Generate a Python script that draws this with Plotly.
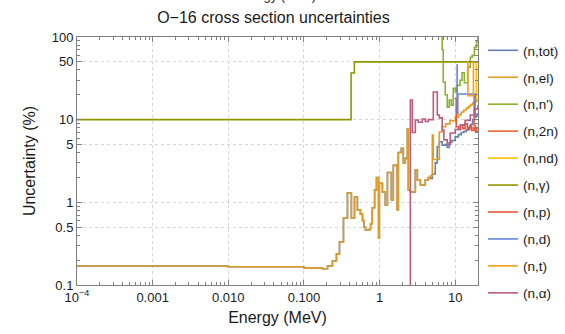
import plotly.graph_objects as go

# ---------------- data (energy in MeV, uncertainty in %) ----------------
tot_E = [1e-4, 0.01, 0.1, 0.176, 0.205, 0.238, 0.269, 0.295, 0.333, 0.376, 0.424, 0.466,
         0.509, 0.558, 0.595, 0.62, 0.65, 0.71, 0.76, 0.80, 0.86, 0.91, 0.97, 0.994, 1.09, 1.19, 1.27,
         1.43, 1.52, 1.71, 1.77, 1.94, 2.06, 2.19, 2.33, 2.40, 2.55, 2.97, 3.16, 3.46, 4.02, 4.41,
         4.69, 4.98, 5.45, 5.79, 6.16, 6.73, 7.38, 7.84, 8.3, 9.0, 10.0, 11.0, 12.0, 13.0, 14.0, 15.0,
         16.0, 17.0, 18.0, 19.0, 20.0]
tot_U = [0.170, 0.166, 0.160, 0.157, 0.170, 0.195, 0.238, 0.332, 0.648, 1.30, 0.648, 1.16,
         0.81, 0.72, 0.60, 0.50, 0.46, 0.47, 0.55, 0.86, 1.41, 2.0, 0.37, 1.7, 1.34, 0.93, 2.3,
         1.07, 2.8, 0.81, 4.0, 4.5, 3.0, 3.4, 7.7, 1.41, 1.34, 2.47, 1.87, 1.62, 1.87, 2.0,
         1.95, 2.2, 3.0, 4.7, 5.4, 4.9, 5.0, 4.6, 5.3, 5.6, 6.2, 6.6, 7.0, 7.2, 7.5, 8.0,
         8.8, 10.0, 10.8, 11.5, 12.0]

el_E = [1e-4, 0.01, 0.1, 0.176, 0.205, 0.238, 0.269, 0.295, 0.333, 0.376, 0.424, 0.466,
        0.509, 0.558, 0.595, 0.62, 0.65, 0.71, 0.76, 0.80, 0.86, 0.91, 0.97, 0.994, 1.09, 1.19, 1.27,
        1.43, 1.52, 1.71, 1.77, 1.94, 2.06, 2.19, 2.33, 2.40, 2.55, 2.97, 3.16, 3.46, 4.02, 4.41,
        4.69, 4.98, 5.13, 6.16, 6.73, 7.5, 8.5, 10.0, 11.0, 12.0, 13.0, 14.0, 15.0, 16.0, 17.0, 18.0,
        19.0, 20.0]
el_U = [0.170, 0.166, 0.160, 0.157, 0.170, 0.195, 0.238, 0.332, 0.648, 1.30, 0.648, 1.16,
        0.81, 0.72, 0.60, 0.50, 0.46, 0.47, 0.55, 0.86, 1.41, 2.0, 0.37, 1.7, 1.34, 0.93, 2.3,
        1.07, 2.8, 0.81, 4.0, 4.5, 3.0, 3.4, 7.7, 1.41, 1.34, 2.47, 1.87, 1.62, 1.87, 2.0,
        2.1, 6.5, 3.3, 7.1, 8.2, 8.9, 9.7, 10.7, 11.5, 12.4, 13.1, 13.8, 14.5, 15.2, 15.9, 16.5,
        17.0, 17.3]

nn_E = [6.4, 6.73, 6.94, 7.37, 7.84, 8.33, 8.86, 9.41, 10.0, 10.6, 11.6, 12.3, 13.2, 14.6, 15.8,
        16.8, 17.9, 19.1, 20.0]
nn_U = [150, 70, 28.5, 20.0, 14.2, 17.3, 15.0, 24.0, 21.6, 26.0, 30.0, 37.0, 28.0, 43.0, 57.0,
        60.0, 75.0, 87.0, 100.0]

n2n_E = [17.2, 17.8, 18.5, 19.3, 20.0]
n2n_U = [20.0, 8.5, 7.5, 8.0, 8.0]

nd_E = [18.6, 19.0, 20.0]
nd_U = [50.0, 17.5, 17.5]

ng_E = [1e-4, 0.42, 0.464, 20.0]
ng_U = [10.0, 36.7, 50.0, 50.0]

np_E = [9.8, 10.3, 11.0, 11.8, 12.6, 13.5, 14.5, 15.5, 16.5, 17.5, 18.5, 20.0]
np_U = [18.0, 8.2, 7.6, 8.6, 7.8, 8.9, 7.6, 8.4, 7.4, 8.0, 7.2, 7.2]

d_E = [10.4, 10.6, 10.8, 18.3, 19.0, 20.0]
d_U = [46.0, 12.0, 20.4, 11.5, 11.0, 11.0]

t_E = [14.55, 14.7, 17.4, 20.0]
t_U = [50.0, 19.5, 50.0, 50.0]

a_E = [2.45, 2.55, 2.71, 2.97, 3.25, 3.67, 4.02, 4.41, 5.13, 5.79, 6.16, 6.73, 7.10, 7.84, 8.59,
       10.0, 11.6, 13.5, 15.8, 18.0, 20.0]
a_U = [0.05, 17.3, 7.0, 9.9, 9.3, 10.2, 9.5, 10.0, 21.6, 11.4, 10.5, 7.5, 5.7, 5.0, 6.9,
       7.6, 8.6, 9.8, 11.4, 13.5, 15.0]

names = ["(n,tot)", "(n,el)", "(n,n')", "(n,2n)", "(n,nd)", "(n,γ)", "(n,p)", "(n,d)", "(n,t)", "(n,α)"]
energies = [tot_E, el_E, nn_E, n2n_E, nd_E, ng_E, np_E, d_E, t_E, a_E]
uncerts = [tot_U, el_U, nn_U, n2n_U, nd_U, ng_U, np_U, d_U, t_U, a_U]
colors = ["#5E81B5", "#E19C24", "#8FB032", "#EB6235", "#FFBF00", "#929500",
          "#E95536", "#6685D9", "#F89E13", "#BC5B80"]

x_tickvals = [1e-4, 1e-3, 1e-2, 0.1, 1, 10]
x_ticktext = ["10<sup>−4</sup>", "0.001", "0.010", "0.100", "1", "10"]
y_tickvals = [0.1, 0.5, 1, 5, 10, 50, 100]
y_ticktext = ["0.1", "0.5", "1", "5", "10", "50", "100"]

# ---------------- figure ----------------
fig = go.Figure()
for nm, E, U, c in zip(names, energies, uncerts, colors):
    fig.add_trace(go.Scatter(x=E, y=U, mode="lines", name=nm, legendgroup=nm,
                             line=dict(color=c, width=1.6, shape="hv")))

# helper trace for the minor-tick overlay axes
fig.add_trace(go.Scatter(x=[None], y=[None], xaxis="x2", yaxis="y2", showlegend=False,
                         hoverinfo="skip"))

frame = "#808080"
grid = "#d6d6d6"
fig.update_layout(
    width=565, height=334,
    margin=dict(l=77, r=87, t=37, b=49, autoexpand=False),
    paper_bgcolor="white", plot_bgcolor="white",
    font=dict(family="Liberation Sans, Arial, sans-serif", size=13, color="#1a1a1a"),
    title=dict(text="O−16 cross section uncertainties", x=0.484, xanchor="center",
               y=1 - 17 / 334, yanchor="middle", font=dict(size=16)),
    xaxis=dict(type="log", range=[-4, 1.30103], tickmode="array", tickvals=x_tickvals,
               ticktext=x_ticktext, ticks="inside", ticklen=5, tickcolor=frame,
               showline=True, linecolor=frame, linewidth=1, mirror="allticks",
               showgrid=True, gridcolor=grid, griddash="dot", gridwidth=1, zeroline=False,
               title=dict(text="Energy (MeV)", standoff=8)),
    yaxis=dict(type="log", range=[-1, 2], tickmode="array", tickvals=y_tickvals,
               ticktext=y_ticktext, ticks="inside", ticklen=5, tickcolor=frame,
               showline=True, linecolor=frame, linewidth=1, mirror="allticks",
               showgrid=True, gridcolor=grid, griddash="dot", gridwidth=1, zeroline=False,
               title=dict(text="Uncertainty (%)", standoff=12)),
    xaxis2=dict(type="log", range=[-4, 1.30103], overlaying="x", anchor="y2", dtick="D1",
                ticks="inside", ticklen=3, tickcolor=frame, showticklabels=False,
                showgrid=False, showline=False, zeroline=False, mirror="ticks"),
    yaxis2=dict(type="log", range=[-1, 2], overlaying="y", anchor="x2", dtick="D1",
                ticks="inside", ticklen=3, tickcolor=frame, showticklabels=False,
                showgrid=False, showline=False, zeroline=False, mirror="ticks"),
    legend=dict(x=1.0125, xanchor="left", y=1.008, yanchor="top", tracegroupgap=6.4,
                maxheight=330, font=dict(size=13.5), bgcolor="rgba(0,0,0,0)"),
    annotations=[dict(text="Energy (MeV)", xref="paper", yref="paper", x=0.496, y=1.128,
                      xanchor="center", yanchor="bottom", showarrow=False,
                      font=dict(size=13))],
)

fig.write_html("out.html")
